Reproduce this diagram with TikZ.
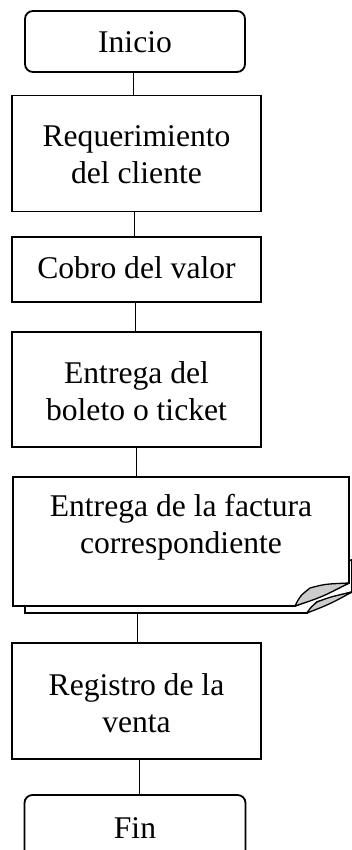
\documentclass[tikz,border=0pt]{standalone}
\usepackage{fontspec}
\setmainfont{Liberation Serif}
\begin{document}
\begin{tikzpicture}[x=1pt,y=-1pt,
  box/.style={draw, line width=1.8pt, rectangle, align=center, inner sep=0pt},
  term/.style={draw, line width=1.8pt, rectangle, rounded corners=8pt, inner sep=0pt},
  conn/.style={line width=0.9pt},
  txt/.style={font=\fontsize{31.6}{37}\selectfont, align=center}]
\useasboundingbox (0,0) rectangle (352,850);
% terminals
\node[term, minimum width=220pt, minimum height=61pt] (inicio) at (135,41.5) {};
\node[txt] (inicioT) at (135,42) {Inicio};
\node[box, minimum width=249pt, minimum height=116pt] (req) at (136.5,153.5) {};
\node[txt] (reqT) at (136.5,155) {Requerimiento\\del cliente};
\node[box, minimum width=249pt, minimum height=65pt] (cobro) at (136.5,269.5) {};
\node[txt] (cobroT) at (136.5,268) {Cobro del valor};
\node[box, minimum width=249pt, minimum height=115pt] (bol) at (136.5,389.5) {};
\node[txt] (bolT) at (136.5,391) {Entrega del\\boleto o ticket};
% document shape
\coordinate (docTop) at (136,477);
\coordinate (docBot) at (137,613);
\filldraw[fill=white, line width=1.8pt, line join=miter]
  (25,600) -- (25,613) -- (307,613) -- (317,602) -- (352,592) -- (352,560) -- cycle;
\filldraw[fill=black!20, line width=1.3pt, line join=round]
  (307,613) .. controls (311,607) .. (317,602) .. controls (330,597) .. (352,592)
  .. controls (330,604) .. cycle;
\filldraw[fill=white, line width=1.8pt, line join=miter]
  (13,477) -- (349,477) -- (349,583) -- (295,606) -- (13,606) -- cycle;
\filldraw[fill=black!20, line width=1.3pt, line join=round]
  (295,606) .. controls (300,596) .. (310,588) .. controls (325,584) .. (349,583)
  .. controls (322,597) .. cycle;
\node[txt] (doc) at (181,527) {Entrega de la factura\\correspondiente};
\node[box, minimum width=249pt, minimum height=116pt] (reg) at (136.5,701) {};
\node[txt] (regT) at (136.5,703) {Registro de la\\venta};
\node[term, minimum width=221pt, minimum height=70pt] (fin) at (135,830) {};
\node[txt] (finT) at (135,828) {Fin};
% connectors
\draw[conn] (inicio.south -| 133,0) -- (req.north -| 133,0);
\draw[conn] (req.south -| 134,0) -- (cobro.north -| 134,0);
\draw[conn] (cobro.south -| 135,0) -- (bol.north -| 135,0);
\draw[conn] (bol.south -| docTop) -- (docTop);
\draw[conn] (docBot) -- (reg.north -| docBot);
\draw[conn] (reg.south -| 139,0) -- (fin.north -| 139,0);
\end{tikzpicture}
\end{document}
